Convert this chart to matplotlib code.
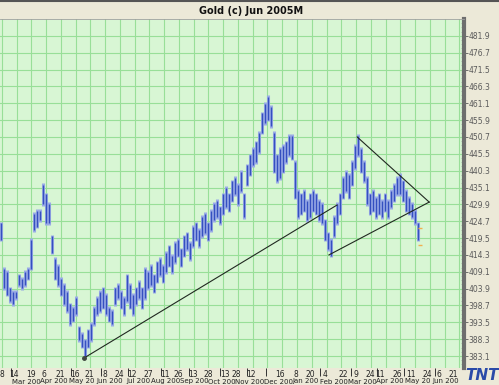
import numpy as np
import matplotlib.pyplot as plt

# session bars (low / high), one slot per bar
lows = [419, 404, 402, 400, 399, 401, 405, 404, 405, 407,
        410, 422, 423, 425, 430, 424, 424, 415, 407, 405,
        402, 399, 397, 393, 394, 396, 388, 386, 383, 386,
        388, 393, 396, 397, 398, 396, 394, 393, 399, 401,
        398, 396, 400, 398, 396, 399, 401, 398, 401, 404,
        405, 403, 406, 408, 406, 409, 411, 409, 412, 414,
        411, 414, 416, 413, 417, 419, 417, 420, 421, 419,
        422, 425, 426, 424, 427, 429, 428, 431, 433, 430,
        434, 426, 436, 439, 442, 443, 446, 452, 455, 456,
        454, 440, 437, 438, 440, 443, 445, 444, 432, 426,
        427, 428, 425, 426, 428, 427, 425, 424, 419, 416,
        414, 420, 424, 427, 432, 434, 432, 436, 441, 445,
        440, 437, 430, 427, 428, 426, 427, 426, 428, 426,
        429, 431, 433, 433, 431, 428, 427, 426, 424, 419]
highs = [424, 410, 409, 404, 403, 403, 408, 407, 409, 410,
         419, 427, 428, 428, 436, 433, 430, 420, 413, 411,
         407, 405, 403, 399, 398, 401, 392, 390, 388, 391,
         393, 398, 401, 403, 404, 402, 398, 397, 404, 405,
         403, 401, 408, 405, 402, 404, 406, 404, 410, 409,
         411, 408, 412, 413, 411, 415, 417, 414, 418, 419,
         416, 420, 421, 418, 423, 424, 422, 426, 427, 424,
         428, 430, 431, 429, 433, 435, 433, 437, 438, 436,
         440, 433, 442, 445, 447, 449, 452, 458, 461, 463,
         460, 452, 445, 447, 448, 449, 451, 451, 443, 434,
         433, 434, 431, 433, 434, 433, 431, 430, 425, 421,
         419, 426, 430, 433, 438, 440, 439, 443, 448, 451,
         447, 443, 438, 433, 434, 432, 433, 431, 433, 431,
         434, 436, 438, 439, 437, 434, 432, 430, 428, 424]

# trend lines: (bar slot, price)
long_trend_x = [27.7, 112.0]
long_trend_y = [382.5, 429.7]
upper_x = [118.7, 142.7]
upper_y = [450.7, 430.6]
lower_x = [109.3, 142.7]
lower_y = [414.3, 430.6]

# small projection marks after last bar
proj_x = [139.7, 139.7]
proj_y = [422.6, 417.4]

price_ticks = [round(383.1 + 5.2 * k, 1) for k in range(20)]

day_labels = ["8", "14", "19", "6", "21", "16", "21", "8", "24", "12", "27",
              "11", "26", "13", "28", "13", "28", "12", "16", "8", "20", "4",
              "22", "9", "24", "11", "26", "11", "24", "6", "21"]
day_pos = [0.3, 4.3, 10.0, 14.3, 19.7, 24.7, 29.3, 34.7, 39.3, 43.7, 49.0,
           54.7, 59.0, 64.0, 69.0, 74.7, 78.3, 83.3, 93.0, 98.3, 103.0, 108.0,
           114.0, 118.3, 123.0, 126.3, 132.0, 136.7, 142.0, 146.0, 150.7]
month_ticks = [3.3, 23.3, 33.3, 42.3, 53.3, 62.7, 73.0, 82.0, 88.3, 106.3,
               116.7, 125.3, 134.3, 144.7]
month_labels = ["Mar 200", "Apr 200", "May 20", "Jun 200", "Jul 200", "Aug 200",
                "Sep 200", "Oct 200", "Nov 200", "Dec 200", "Jan 200", "Feb 200",
                "Mar 200", "Apr 200", "May 20", "Jun 200"]

narrow = ['Liberation Sans Narrow', 'DejaVu Sans']

W, H = 499, 385
fig = plt.figure(figsize=(W / 100, H / 100), dpi=100)
fig.patch.set_facecolor('#ece9d8')

ax = fig.add_axes([0, 1 - 368 / H, 464 / W, 349 / H])
ax.set_facecolor('#d8f6d4')
ax.set_xlim(-0.33, 154.3)
ax.set_ylim(379.4, 487.1)

# grid
for gx in np.arange(0.25, 155, 4.92):
    ax.axvline(gx, color='#98df98', lw=0.8, zorder=0)
for gy in price_ticks:
    ax.axhline(gy, color='#98df98', lw=0.8, zorder=0)

x = np.arange(len(lows))
ax.vlines(x, np.array(lows) - 0.5, np.array(highs) + 0.5, color='#9aabe6', lw=2.2, zorder=2)
ax.vlines(x, lows, highs, color='#3550c0', lw=1.0, zorder=3)

ax.plot(long_trend_x, long_trend_y, color='#202820', lw=0.8, zorder=4)
ax.plot(upper_x, upper_y, color='#202820', lw=0.8, zorder=4)
ax.plot(lower_x, lower_y, color='#202820', lw=0.8, zorder=4)
ax.plot(long_trend_x[:1], long_trend_y[:1], 'o', ms=2.5, color='#404840', zorder=5)
ax.plot(proj_x, proj_y, '_', ms=3, color='#f0b050', zorder=5)

# right price axis
ax.yaxis.tick_right()
ax.set_yticks(price_ticks)
ax.set_yticklabels([f"{v:.1f}" for v in price_ticks], fontsize=5.5, color='#5a5a5a')
ax.tick_params(axis='y', direction='out', length=3, width=0.6, color='#5a5a5a', pad=0.5)
ax.set_yticks(np.arange(380.5, 487, 1.3), minor=True)
ax.tick_params(axis='y', which='minor', direction='in', length=2, width=0.4, color='#999999')

# bottom date axis
ax.set_xticks(month_ticks)
ax.set_xticklabels([])
ax.tick_params(axis='x', direction='out', length=6, width=0.7, color='#333333')
ax.set_xticks(day_pos, minor=True)
ax.set_xticklabels(day_labels, minor=True, fontsize=5.5, color='#222222')
ax.tick_params(axis='x', which='minor', length=0, pad=1.5)

for s in ['top', 'left', 'bottom']:
    ax.spines[s].set_visible(False)
ax.spines['right'].set_color('#6e6e6e')
ax.spines['right'].set_linewidth(3)

for k, lab in enumerate(month_labels):
    fig.text((26 + 28 * k) / W, 1 - 381.5 / H, lab, fontsize=5, color='#222222',
             family=narrow, ha='center', va='center')

# title bar
fig.add_artist(plt.Line2D([0, 1], [1 - 1 / H, 1 - 1 / H], color='#555555', lw=1.5,
                          transform=fig.transFigure))
fig.add_artist(plt.Line2D([0, 464 / W], [1 - 18.5 / H, 1 - 18.5 / H], color='#a0a0a0', lw=0.6,
                          transform=fig.transFigure))
fig.text(251 / W, 1 - 10.5 / H, "Gold (c) Jun 2005M", fontsize=7, fontweight='bold',
         family=narrow, ha='center', va='center', color='#111111')

fig.text(482 / W, 1 - 375 / H, "TNT", fontsize=11, fontweight='bold', style='italic',
         color='#2a4aa8', ha='center', va='center')

fig.savefig('out.png', dpi=100, facecolor=fig.get_facecolor())
